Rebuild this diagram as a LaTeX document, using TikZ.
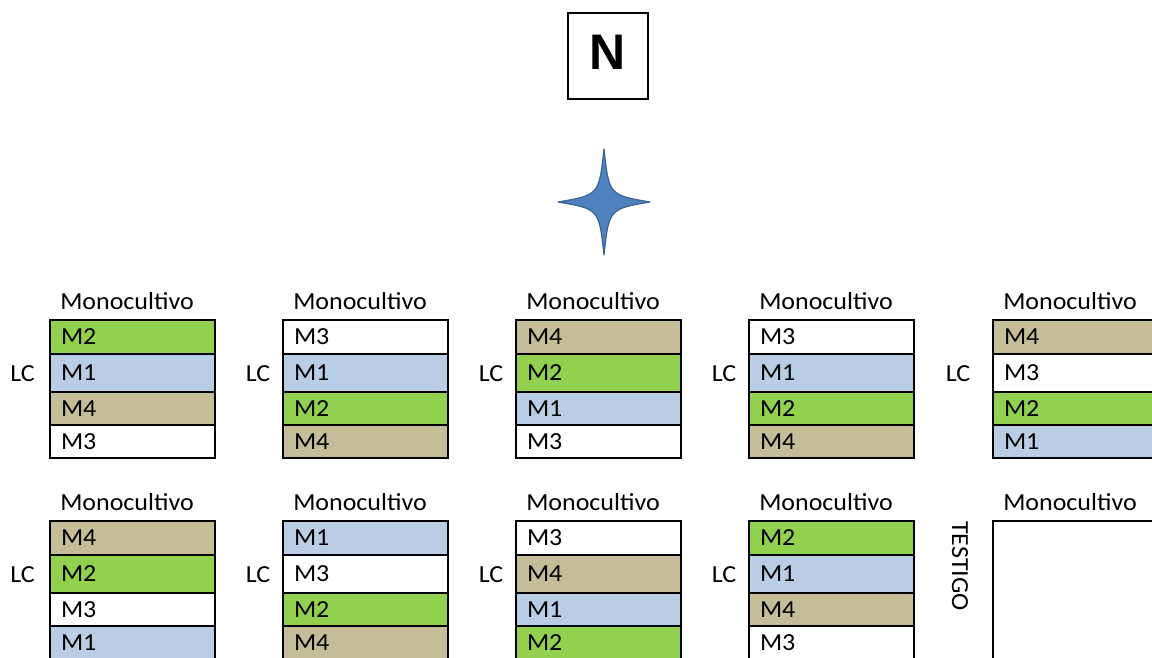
\documentclass[tikz,border=0pt]{standalone}
\usepackage{fontspec}
\setmainfont{Carlito}[FakeStretch=1.06]
\newfontfamily\nfont{Liberation Sans}
\definecolor{cg}{HTML}{92D050}
\definecolor{cb}{HTML}{B9CDE5}
\definecolor{ct}{HTML}{C4BD97}
\definecolor{cw}{HTML}{FFFFFF}
\definecolor{starfill}{HTML}{4F81BD}
\definecolor{stardraw}{HTML}{3A6496}
\newcommand\lblg{M2}
\newcommand\lblb{M1}
\newcommand\lblt{M4}
\newcommand\lblw{M3}
\tikzset{
  txt/.style={font=\fontsize{24.5}{26}\selectfont},
  cell/.style={txt, draw=black, line width=2pt, anchor=north west, minimum width=165pt,
    text width=143pt, inner xsep=11pt, inner ysep=0pt, align=left},
  mono/.style={txt, anchor=base, inner sep=0pt},
  lclbl/.style={txt, inner sep=0pt},
  nbox/.style={draw=black, line width=1.5pt, minimum width=80pt, minimum height=86pt, inner sep=0pt},
}
\newcommand\plotcol[8]{%
  \node[mono] (#1m) at (#2+78,#3-10) {Monocultivo};
  \node[cell,fill=c#5,minimum height=34pt] (#1r1) at (#2,#3) {\csname lbl#5\endcsname};
  \node[cell,fill=c#6,minimum height=38pt] (#1r2) at (#2,#3+34) {\csname lbl#6\endcsname};
  \node[cell,fill=c#7,minimum height=33pt] (#1r3) at (#2,#3+72) {\csname lbl#7\endcsname};
  \node[cell,fill=c#8,minimum height=33pt] (#1r4) at (#2,#3+105) {\csname lbl#8\endcsname};
  \node[lclbl] (#1lc) at (#4,#3+55) {LC};
}
\begin{document}
\begin{tikzpicture}[x=1pt,y=-1pt]
\useasboundingbox (0,0) rectangle (1152,658);
\clip (0,0) rectangle (1152,658);
% North box
\node[nbox] (nb) at (608,56) {};
\node[inner sep=0pt, font=\nfont\bfseries\fontsize{50}{52}\selectfont] (ntext) at (608,52) {N};
% star
\filldraw[fill=starfill, draw=stardraw, line width=1.2pt, line join=round]
  (604,149) .. controls (609,195) .. (650,202)
  .. controls (609,209) .. (604,255)
  .. controls (599,209) .. (558,202)
  .. controls (599,195) .. (604,149) -- cycle;
% top row
\plotcol{a}{49}{319}{22.5}{g}{b}{t}{w}
\plotcol{b}{282}{319}{258}{w}{b}{g}{t}
\plotcol{c}{515}{319}{491}{t}{g}{b}{w}
\plotcol{d}{748}{319}{724}{w}{b}{g}{t}
\plotcol{e}{992}{319}{958}{t}{w}{g}{b}
% bottom row
\plotcol{f}{49}{520}{22.5}{t}{g}{w}{b}
\plotcol{g}{282}{520}{258}{b}{w}{g}{t}
\plotcol{h}{515}{520}{491}{w}{t}{b}{g}
\plotcol{i}{748}{520}{724}{g}{b}{t}{w}
% testigo
\node[mono] (jm) at (992+78,510) {Monocultivo};
\node[draw=black, line width=2pt, fill=white, anchor=north west, minimum width=165pt, minimum height=138pt, inner sep=0pt] (jbox) at (992,520) {};
\node[lclbl, rotate=-90] (jt) at (960,566) {TESTIGO};
\end{tikzpicture}
\end{document}
